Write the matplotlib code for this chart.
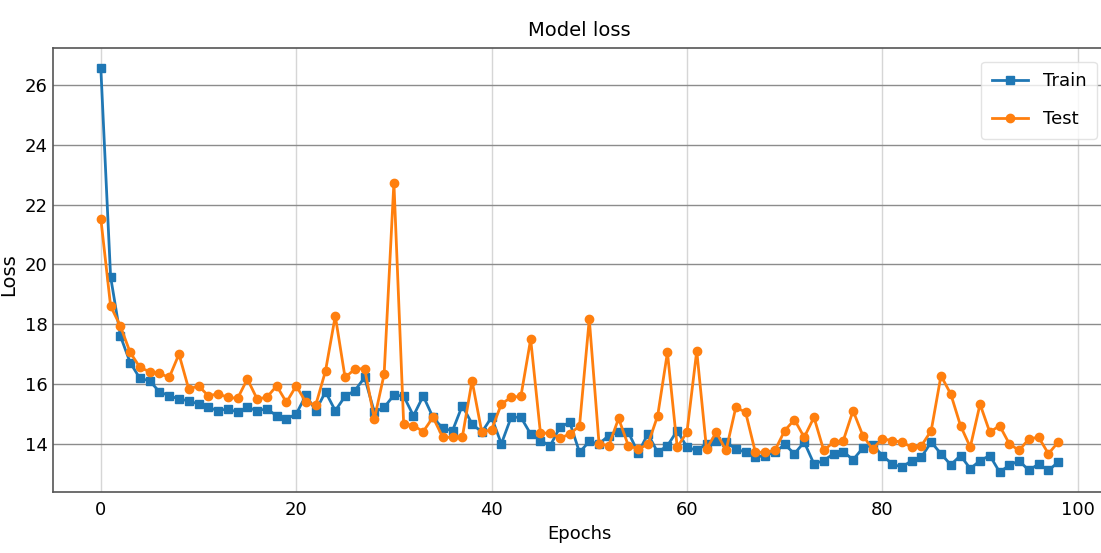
import matplotlib
matplotlib.use("Agg")
import matplotlib.pyplot as plt
import numpy as np

# loss per epoch
train_loss = [26.56, 19.59, 17.61, 16.72, 16.19, 16.11, 15.74, 15.61, 15.50, 15.44,
              15.33, 15.22, 15.11, 15.17, 15.06, 15.22, 15.11, 15.17, 14.94, 14.83,
              15.00, 15.63, 15.11, 15.74, 15.11, 15.59, 15.78, 16.22, 15.06, 15.22,
              15.63, 15.60, 14.94, 15.60, 14.89, 14.52, 14.44, 15.28, 14.67, 14.39,
              14.89, 14.00, 14.89, 14.89, 14.33, 14.11, 13.94, 14.56, 14.72, 13.72,
              14.08, 14.00, 14.28, 14.39, 14.39, 13.70, 14.33, 13.72, 13.94, 14.44,
              13.89, 13.78, 14.00, 14.08, 14.06, 13.83, 13.72, 13.56, 13.61, 13.72,
              13.98, 13.67, 14.06, 13.33, 13.44, 13.67, 13.74, 13.47, 13.86, 13.97,
              13.61, 13.33, 13.22, 13.44, 13.56, 14.06, 13.67, 13.30, 13.61, 13.17,
              13.44, 13.61, 13.06, 13.28, 13.44, 13.11, 13.33, 13.11, 13.39]
test_loss = [21.53, 18.61, 17.94, 17.06, 16.56, 16.41, 16.36, 16.22, 17.00, 15.83,
             15.94, 15.61, 15.67, 15.56, 15.52, 16.17, 15.50, 15.56, 15.94, 15.39,
             15.94, 15.39, 15.30, 16.44, 18.28, 16.22, 16.50, 16.52, 14.83, 16.33,
             22.74, 14.67, 14.61, 14.41, 14.89, 14.22, 14.22, 14.22, 16.11, 14.39,
             14.48, 15.33, 15.56, 15.59, 17.50, 14.36, 14.36, 14.19, 14.33, 14.60,
             18.17, 14.00, 13.94, 14.85, 13.94, 13.83, 13.98, 14.94, 17.06, 13.89,
             14.39, 17.11, 13.83, 14.39, 13.78, 15.22, 15.06, 13.72, 13.72, 13.78,
             14.44, 14.81, 14.22, 14.89, 13.78, 14.06, 14.11, 15.11, 14.28, 13.83,
             14.17, 14.11, 14.06, 13.89, 13.94, 14.44, 16.28, 15.67, 14.61, 13.89,
             15.33, 14.39, 14.61, 14.00, 13.78, 14.17, 14.22, 13.67, 14.06]
epochs = np.arange(len(train_loss))

fig = plt.figure(figsize=(11.01, 5.53), dpi=100)
# the right spine sits just past the picture's edge in the reference
ax = fig.add_axes([0.0481, 0.11, 0.9565, 0.803])

ax.plot(epochs, train_loss, "s-", color="#1f77b4", linewidth=2.0,
        markersize=6, label="Train")
ax.plot(epochs, test_loss, "o-", color="#ff7f0e", linewidth=2.0,
        markersize=6, label="Test")

ax.grid(axis="y", color="#8c8c8c", linewidth=1.0)
ax.grid(axis="x", color="#d6d6d6", linewidth=1.0)
ax.set_axisbelow(True)
for s in ax.spines.values():
    s.set_color("#555555")
    s.set_linewidth(1.2)
ax.tick_params(length=0, pad=6, labelsize=13)
ax.tick_params(axis="y", pad=4)

ax.set_title("Model loss", fontsize=14, pad=9)
ax.set_xlabel("Epochs", fontsize=13, labelpad=5)
ax.set_ylabel("Loss", fontsize=14)
ax.yaxis.set_label_coords(-0.033, 0.49)
leg = ax.legend(loc="upper right", fontsize=13, frameon=True, fancybox=True,
                borderpad=0.6, labelspacing=1.1, handlelength=2.0,
                bbox_to_anchor=(1.0, 0.99))
leg.get_frame().set_edgecolor("#dddddd")

fig.savefig("out.png", dpi=100)
